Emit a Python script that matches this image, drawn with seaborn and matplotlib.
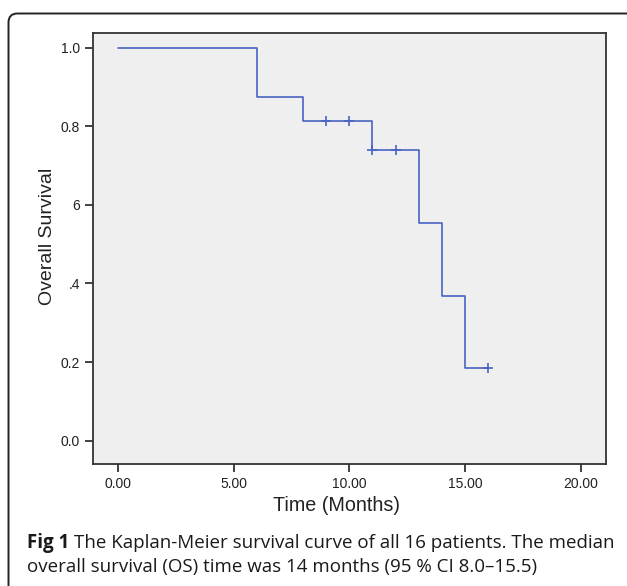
import numpy as np
import pandas as pd
import matplotlib
matplotlib.use("Agg")
import matplotlib.pyplot as plt
from matplotlib.patches import FancyBboxPatch
import seaborn as sns

# Kaplan-Meier step data
step_times = [0.0, 6.0, 8.0, 11.0, 13.0, 14.0, 15.0, 16.0]
step_surv = [1.0, 0.875, 0.8125, 0.7386, 0.5538, 0.3692, 0.1846, 0.1846]
censor_times = [9.0, 10.0, 11.0, 12.0, 16.0]
censor_surv = [0.8125, 0.8125, 0.7386, 0.7386, 0.1846]
x_ticks = [0, 5, 10, 15, 20]
x_tick_labels = ["0.00", "5.00", "10.00", "15.00", "20.00"]
y_ticks = [0.0, 0.2, 0.4, 0.6, 0.8, 1.0]
y_tick_labels = ["0.0", "0.2", ".4", "6", "0.8", "1.0"]

sns.set_style("white")
plt.rcParams["font.family"] = ["Liberation Sans", "DejaVu Sans"]

W, H = 627, 586
fig = plt.figure(figsize=(W / 100, H / 100), dpi=100)

# outer rounded frame (left/top visible, right/bottom run off the page)
bx0, btop = 8.5, 13.5
box = FancyBboxPatch((bx0, -30), W + 30 - bx0, (H - btop) + 30,
                     boxstyle="round,pad=0,rounding_size=9",
                     transform=None, fill=False,
                     edgecolor="#222222", linewidth=1.4)
fig.add_artist(box)

left, right, top, bottom = 92.5, 606, 33, 464
ax = fig.add_axes([left / W, 1 - bottom / H, (right - left) / W, (bottom - top) / H])
ax.set_facecolor("#efefef")

km = pd.DataFrame({"time": step_times, "surv": step_surv})
cens = pd.DataFrame({"time": censor_times, "surv": censor_surv})
line_color = "#4a63c2"
sns.lineplot(data=km, x="time", y="surv", ax=ax, estimator=None,
             drawstyle="steps-post", color=line_color, linewidth=1.2)
sns.scatterplot(data=cens, x="time", y="surv", ax=ax, marker="+",
                color=line_color, s=60, linewidth=1.2)

ax.set_xlim(-1.1, 21.1)
ax.set_ylim(-0.059, 1.037)
ax.set_xticks(x_ticks)
ax.set_xticklabels(x_tick_labels, fontsize=10)
ax.set_yticks(y_ticks)
ax.set_yticklabels(y_tick_labels, fontsize=10)
ax.tick_params(axis="both", direction="out", length=6, width=1.2,
               color="#222222", labelcolor="#222222", pad=3, bottom=True, left=True)
for s in ax.spines.values():
    s.set_color("#333333")
    s.set_linewidth(1.3)
ax.set_xlabel("Time (Months)", fontsize=14.2, color="#222222")
ax.set_ylabel("Overall Survival", fontsize=14, color="#222222")
ax.xaxis.set_label_coords(0.475, -0.074)
ax.yaxis.set_label_coords(-0.072, 0.529)

cap_font = ["Open Sans", "DejaVu Sans"]
cap_size = 13.5
t1 = fig.text(27 / W, 1 - 543 / H, "Fig 1", fontsize=cap_size, fontweight="bold",
              family=cap_font, color="#1a1a1a", va="center", ha="left")
fig.canvas.draw()
bb = t1.get_window_extent()
fig.text((bb.x1 + 5) / W, 1 - 543 / H,
         "The Kaplan-Meier survival curve of all 16 patients. The median",
         fontsize=cap_size, family=cap_font, color="#1a1a1a", va="center", ha="left")
fig.text(27 / W, 1 - 567 / H,
         "overall survival (OS) time was 14 months (95 % CI 8.0\u201315.5)",
         fontsize=cap_size, family=cap_font, color="#1a1a1a", va="center", ha="left")

fig.savefig("out.png", dpi=100)
